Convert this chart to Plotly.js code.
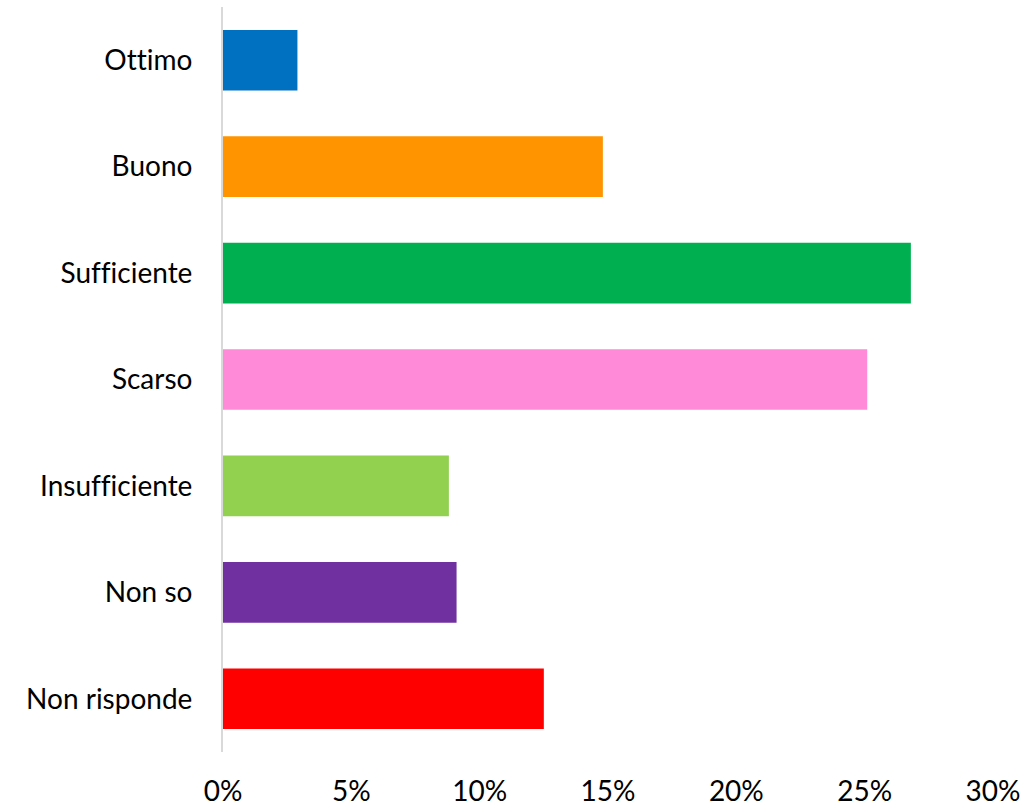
<!DOCTYPE html>
<html>
<head>
<meta charset="utf-8">
<script src="https://cdn.plot.ly/plotly-3.0.1.min.js"></script>
<style>html,body{margin:0;padding:0;background:#fff;}#chart{width:1028px;height:809px;}
#chart text{font-variant-ligatures:none;font-feature-settings:"liga" 0;}</style>
</head>
<body>
<div id="chart"></div>
<script>
const categories = ["Ottimo", "Buono", "Sufficiente", "Scarso", "Insufficiente", "Non so", "Non risponde"];
const values = [2.9, 14.8, 26.8, 25.1, 8.8, 9.1, 12.5];
const colors = ["#0070C0", "#FF9300", "#00B050", "#FF8AD8", "#92D050", "#7030A0", "#FF0000"];
const xTickVals = [0, 5, 10, 15, 20, 25, 30];
const xTickText = ["0%", "5%", "10%", "15%", "20%", "25%", "30%"];

const trace = {
  type: "bar",
  orientation: "h",
  y: categories,
  x: values,
  marker: { color: colors, line: { width: 0 } },
  hoverinfo: "x+y"
};

const layout = {
  width: 1028,
  height: 809,
  margin: { l: 223, r: 35, t: 7, b: 57 },
  paper_bgcolor: "#ffffff",
  plot_bgcolor: "#ffffff",
  font: { family: "Lato, 'Open Sans', sans-serif", size: 28, color: "#000000" },
  showlegend: false,
  bargap: 0.43,
  xaxis: {
    range: [0, 30],
    tickvals: xTickVals,
    ticktext: xTickText,
    showgrid: false,
    zeroline: false,
    showline: false,
    ticks: "",
    ticklabelstandoff: 20,
    fixedrange: true
  },
  yaxis: {
    type: "category",
    categoryorder: "array",
    categoryarray: categories,
    autorange: "reversed",
    showgrid: false,
    zeroline: false,
    showline: true,
    linecolor: "#D9D9D9",
    linewidth: 2,
    ticks: "",
    ticklabelstandoff: 23,
    fixedrange: true
  }
};

Plotly.newPlot("chart", [trace], layout, { displayModeBar: false, staticPlot: true });
</script>
</body>
</html>
